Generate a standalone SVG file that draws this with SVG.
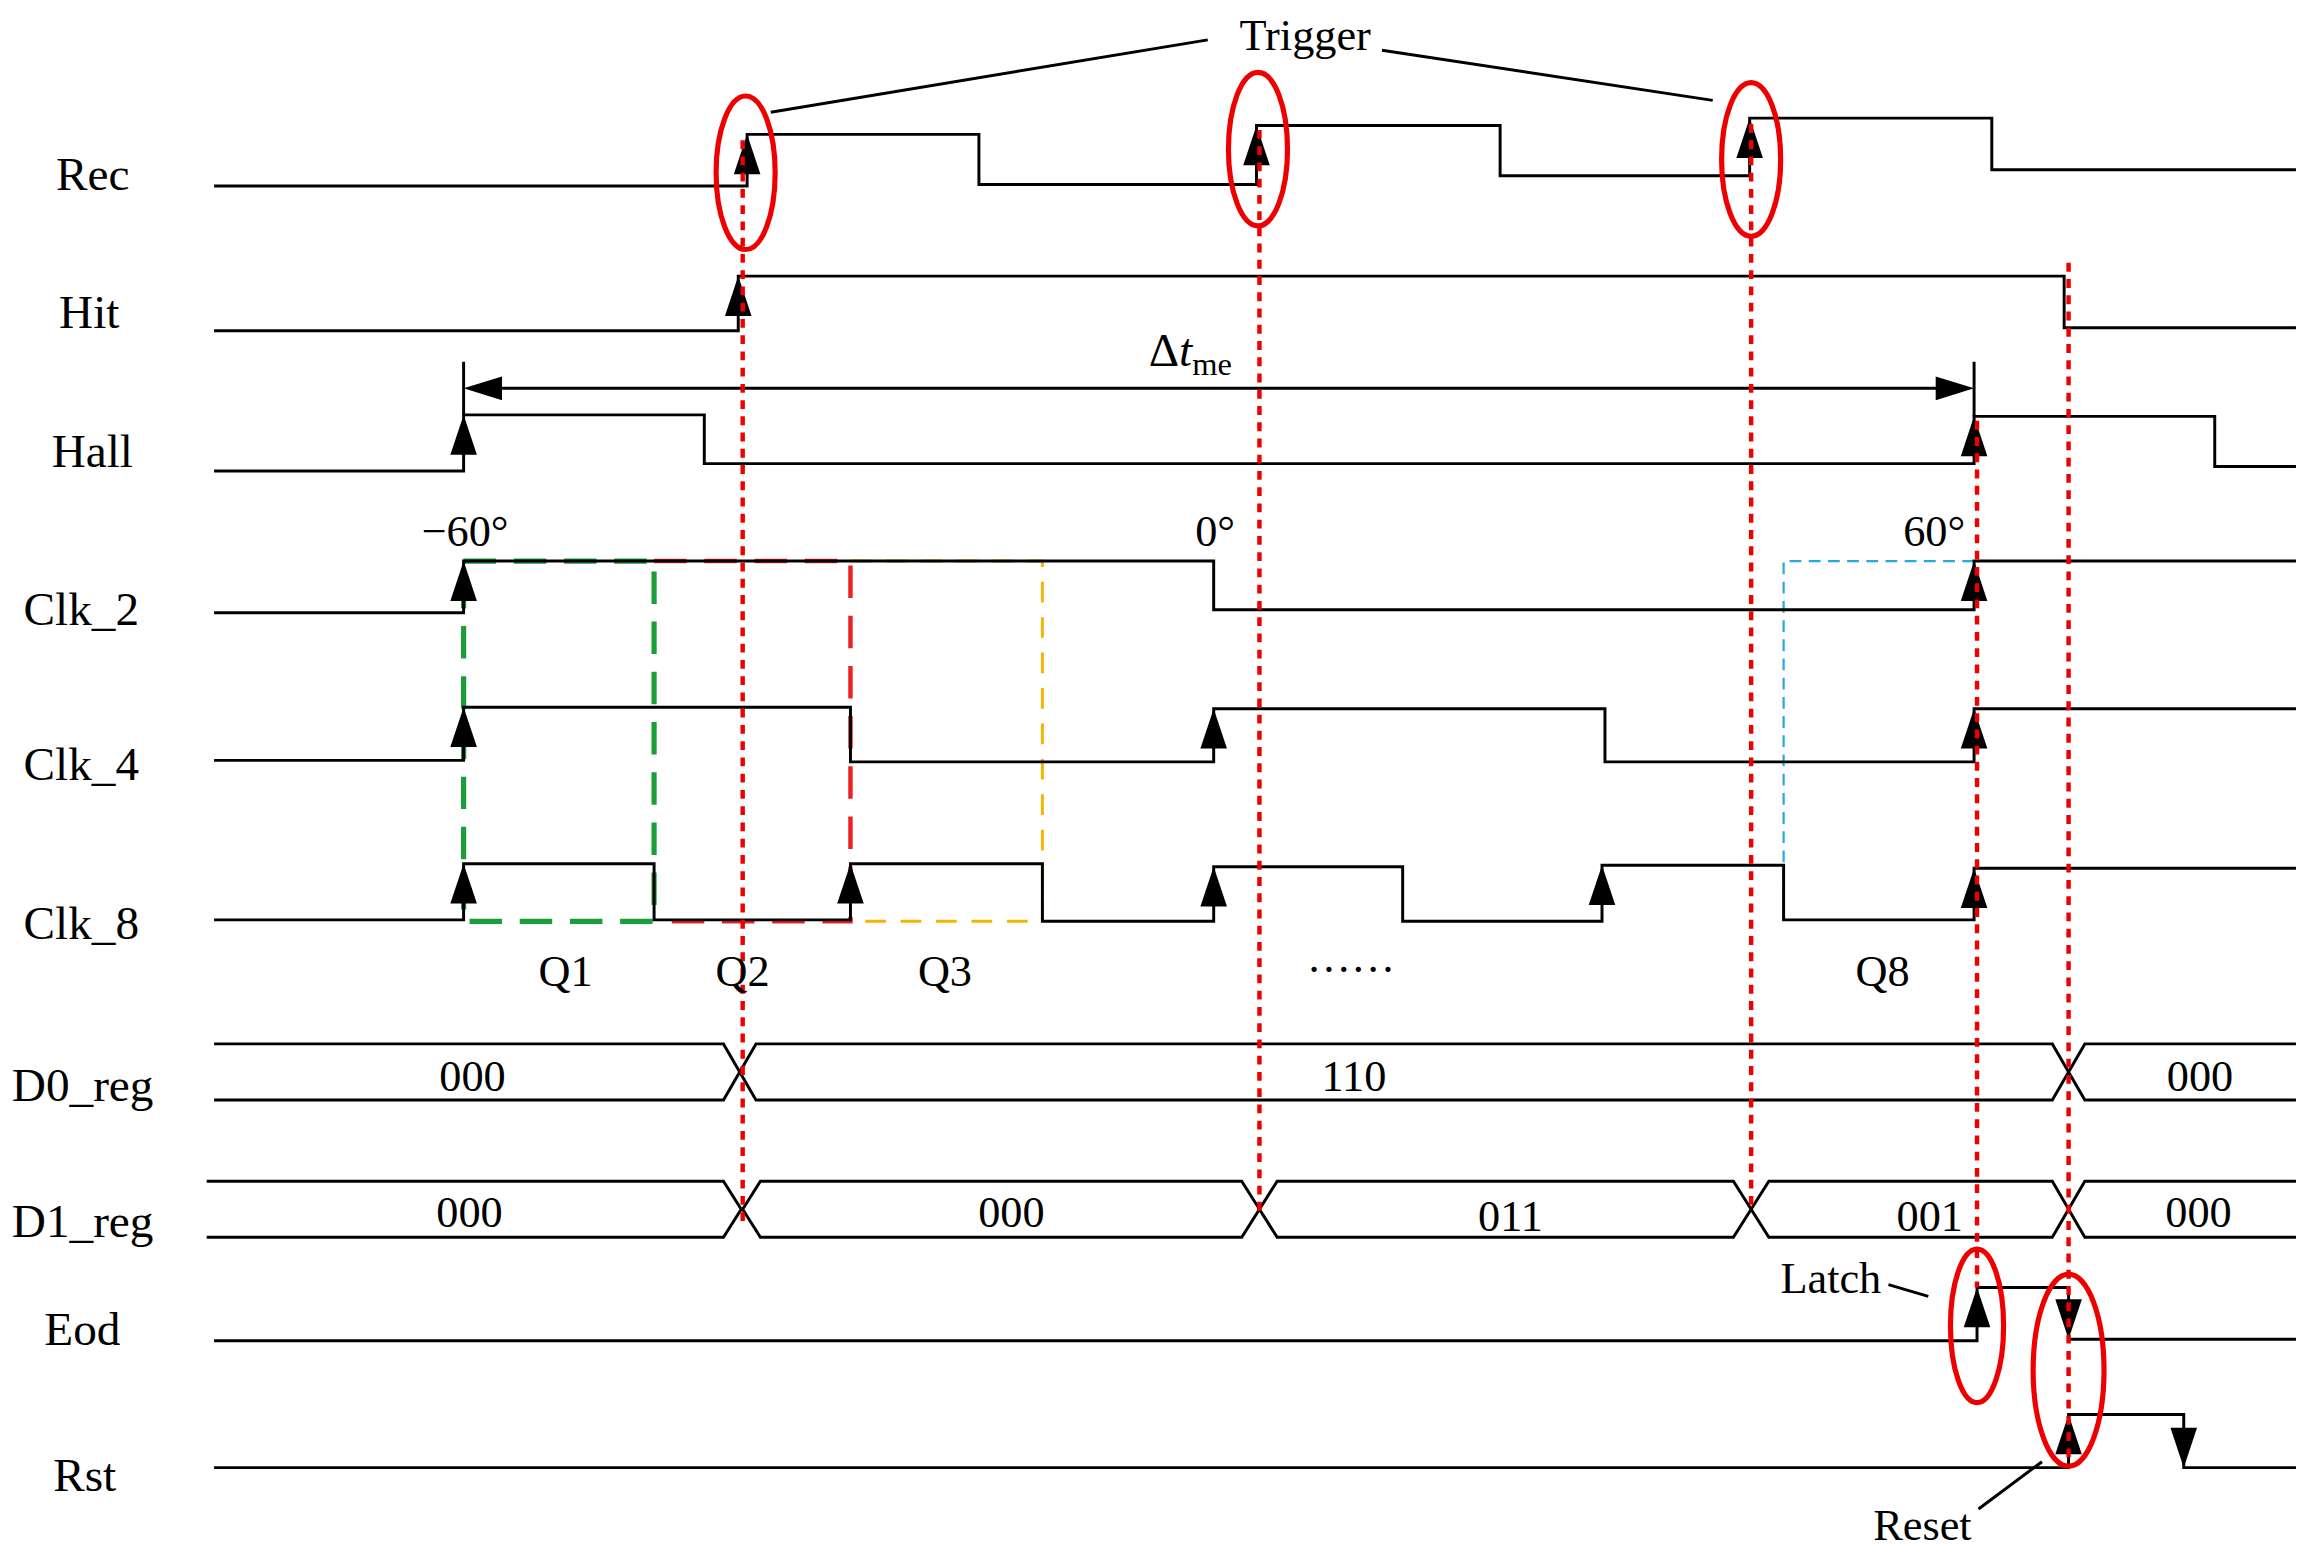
<svg xmlns="http://www.w3.org/2000/svg" width="2315" height="1560" viewBox="0 0 2315 1560">
<style>
.s{fill:none;stroke:#000;stroke-width:2}
.t{font-family:"Liberation Serif",serif;font-size:32px;fill:#000}
.tc{font-family:"Liberation Serif",serif;font-size:30px;fill:#000;text-anchor:middle}
.rd{fill:none;stroke:#e00;stroke-width:3;stroke-dasharray:6 5}
.el{fill:none;stroke:#e00;stroke-width:3.5}
</style>
<defs>
<path id="au" d="M0 0 L-9 27 L9 27 Z" fill="#000"/>
<path id="ad" d="M0 0 L-9 -27 L9 -27 Z" fill="#000"/>
</defs>
<rect width="2315" height="1560" fill="#fff"/>
<g transform="scale(1.4765)">
<g id="labels">
<text class="t" x="38" y="129">Rec</text>
<text class="t" x="40" y="222">Hit</text>
<text class="t" x="35" y="316">Hall</text>
<text class="t" x="16" y="423">Clk_2</text>
<text class="t" x="16" y="528">Clk_4</text>
<text class="t" x="16" y="636">Clk_8</text>
<text class="t" x="8" y="746">D0_reg</text>
<text class="t" x="8" y="838">D1_reg</text>
<text class="t" x="30" y="911">Eod</text>
<text class="t" x="36" y="1010">Rst</text>
</g>
<g id="colored">
<path d="M314 380 H443 V624 H314 Z" fill="none" stroke="#1a9e3a" stroke-width="3.5" stroke-dasharray="22 12"/>
<path d="M443 380 H576 V624 H443" fill="none" stroke="#e22" stroke-width="3" stroke-dasharray="22 12"/>
<path d="M576 380 H706 V624 H576" fill="none" stroke="#f4b400" stroke-width="2" stroke-dasharray="14 10"/>
<path d="M1337 380 H1208 V623" fill="none" stroke="#29a8e0" stroke-width="1.5" stroke-dasharray="8 5"/>
</g>
<g id="connectors">
<path class="s" d="M145 126 H506 V91 H663 V125 H851 V85 H1016 V119 H1185 V80 H1349 V115 H1555"/>
<path class="s" d="M145 224 H500 V187 H1398 V222 H1555"/>
<path class="s" d="M145 319 H314 V281 H477 V314 H1337 V282 H1500 V316 H1555"/>
<path class="s" d="M145 415 H314 V380 H822 V413 H1337 V380 H1555"/>
<path class="s" d="M145 515 H314 V479 H576 V516 H822 V480 H1087 V516 H1337 V480 H1555"/>
<path class="s" d="M145 623 H314 V585 H443 V623 H576 V585 H706 V624 H822 V587 H950 V624 H1085 V586 H1208 V623 H1337 V588 H1555"/>
<path class="s" d="M145 908 H1339 V872 H1401 V907 H1555"/>
<path class="s" d="M145 994 H1401 V958 H1479 V994 H1555"/>
<path class="s" d="M145 707 H490 L512 745 H1390 L1412 707 H1555 M145 745 H490 L512 707 H1390 L1412 745 H1555"/>
<path class="s" d="M140 800 H490 L502 819 L490 838 H140"/>
<path class="s" d="M515 800 H841 L853 819 L841 838 H515 L503 819 Z"/>
<path class="s" d="M865 800 H1174 L1186 819 L1174 838 H865 L853 819 Z"/>
<path class="s" d="M1198 800 H1390 L1401 819 L1390 838 H1198 L1186 819 Z"/>
<path class="s" d="M1555 800 H1412 L1401 819 L1412 838 H1555"/>
<path class="s" d="M314 245 V281 M1337 245 V282 M330 263 H1321"/>
<path d="M314 263 L340 255 L340 271 Z M1337 263 L1311 255 L1311 271 Z" fill="#000"/>
<use href="#au" x="506" y="91"/><use href="#au" x="851" y="85"/><use href="#au" x="1185" y="80"/>
<use href="#au" x="500" y="187"/>
<use href="#au" x="314" y="281"/><use href="#au" x="1337" y="282"/>
<use href="#au" x="314" y="380"/><use href="#au" x="1337" y="380"/>
<use href="#au" x="314" y="479"/><use href="#au" x="822" y="480"/><use href="#au" x="1337" y="480"/>
<use href="#au" x="314" y="585"/><use href="#au" x="576" y="585"/><use href="#au" x="822" y="587"/><use href="#au" x="1085" y="586"/><use href="#au" x="1337" y="588"/>
<use href="#au" x="1339" y="872"/><use href="#ad" x="1401" y="907"/>
<use href="#au" x="1401" y="958"/><use href="#ad" x="1479" y="994"/>
<path class="s" d="M522 76 L818 27 M936 34 L1160 68 M1279 870 L1306 878 M1340 1022 L1383 990"/>
</g>
<g id="markers">
<path class="rd" d="M503 95 V830 M853 88 V820 M1186 84 V820 M1339 285 V872 M1401 178 V990"/>
<ellipse class="el" cx="505" cy="117" rx="20" ry="52"/>
<ellipse class="el" cx="852" cy="101" rx="20" ry="52"/>
<ellipse class="el" cx="1186" cy="108" rx="20" ry="52"/>
<ellipse class="el" cx="1339" cy="898" rx="18" ry="52"/>
<ellipse class="el" cx="1401" cy="928" rx="24" ry="65"/>
</g>
<g id="texts">
<text class="tc" x="884" y="34">Trigger</text>
<text class="t" x="778" y="248" font-size="34">Δ<tspan font-style="italic">t</tspan><tspan font-size="22" dy="6">me</tspan></text>
<text class="tc" x="315" y="370">−60°</text>
<text class="tc" x="823" y="370">0°</text>
<text class="tc" x="1310" y="370">60°</text>
<text class="tc" x="383" y="668">Q1</text>
<text class="tc" x="503" y="668">Q2</text>
<text class="tc" x="640" y="668">Q3</text>
<text class="tc" x="915" y="658">……</text>
<text class="tc" x="1275" y="668">Q8</text>
<text class="tc" x="320" y="739">000</text>
<text class="tc" x="917" y="739">110</text>
<text class="tc" x="1490" y="739">000</text>
<text class="tc" x="318" y="831">000</text>
<text class="tc" x="685" y="831">000</text>
<text class="tc" x="1023" y="834">011</text>
<text class="tc" x="1307" y="834">001</text>
<text class="tc" x="1489" y="831">000</text>
<text class="tc" x="1240" y="876">Latch</text>
<text class="tc" x="1302" y="1043">Reset</text>
</g>
</g>
</svg>
